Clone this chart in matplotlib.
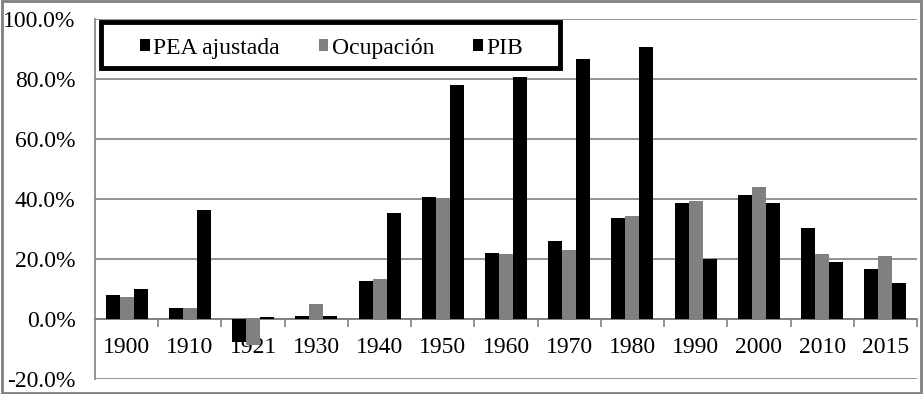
import numpy as np
import matplotlib
matplotlib.use("Agg")
import matplotlib.pyplot as plt
from matplotlib.patches import Rectangle, Patch
from matplotlib.ticker import FixedLocator, FuncFormatter

# data (percent)
years = ["1900", "1910", "1921", "1930", "1940", "1950", "1960",
         "1970", "1980", "1990", "2000", "2010", "2015"]
pea = [8.1, 3.8, -7.5, 1.1, 12.6, 40.8, 22.1, 26.1, 33.8, 38.8, 41.5, 30.5, 16.8]
ocupacion = [7.4, 3.8, -8.6, 5.1, 13.5, 40.5, 21.8, 23.1, 34.5, 39.2, 43.9, 21.8, 21.1]
pib = [10.1, 36.2, 0.8, 1.1, 35.5, 77.9, 80.6, 86.6, 90.6, 20.1, 38.8, 19.1, 12.1]
series_names = ["PEA ajustada", "Ocupación", "PIB"]
series_colors = ["#000000", "#808080", "#000000"]

plt.rcParams["font.family"] = ["Liberation Serif", "DejaVu Serif"]

fig = plt.figure(figsize=(9.23, 3.94), dpi=100)
ax = fig.add_axes([95 / 923, 15 / 394, 822 / 923, 360 / 394])

x = np.arange(len(years))
w = 0.2215
for i, (vals, c) in enumerate(zip([pea, ocupacion, pib], series_colors)):
    ax.bar(x + (i - 1) * w, vals, width=w, color=c, zorder=3)

ax.set_xlim(-0.5, len(years) - 0.5)
ax.set_ylim(-20, 100)
ax.set_yticks(np.arange(-20, 101, 20))
ax.yaxis.set_major_formatter(FuncFormatter(lambda v, p: "%.1f%%" % v))
ax.tick_params(axis="y", length=0, pad=14, labelsize=17)
ax.grid(axis="y", color="#808080", linewidth=1.2, zorder=0)

# category axis sits on the zero line
ax.spines["bottom"].set_position(("data", 0))
ax.spines["bottom"].set_color("#808080")
ax.spines["bottom"].set_linewidth(1.2)
ax.spines["left"].set_color("#808080")
ax.spines["left"].set_linewidth(1.2)
ax.spines["top"].set_visible(False)
ax.spines["right"].set_visible(False)
ax.xaxis.set_major_locator(FixedLocator(np.arange(0.5, len(years), 1)))
ax.xaxis.set_minor_locator(FixedLocator(x))
ax.set_xticklabels([], minor=False)
ax.set_xticklabels(years, minor=True)
ax.tick_params(axis="x", which="major", length=6, width=1.2, color="#808080", direction="out")
ax.tick_params(axis="x", which="minor", length=0, pad=13, labelsize=17)

# legend: frameless entries centred in a thick black box
box_x0, box_x1 = (101 - 95) / 822, (560 - 95) / 822
box_y0, box_y1 = (379 - 68) / 360, (379 - 22) / 360
ax.add_patch(Rectangle((box_x0, box_y0), box_x1 - box_x0, box_y1 - box_y0,
                       transform=ax.transAxes, facecolor="white", edgecolor="black",
                       linewidth=3.5, zorder=5))
handles = [Patch(facecolor=c, edgecolor="none") for c in series_colors]
leg = ax.legend(handles, series_names, ncol=3, loc="center",
                bbox_to_anchor=((box_x0 + box_x1) / 2 + 1 / 822,
                                (box_y0 + box_y1) / 2 - 3 / 360),
                borderaxespad=0, fontsize=17, handlelength=0.4, handleheight=0.4,
                handletextpad=0.15, columnspacing=1.65, borderpad=0, frameon=False)
leg.set_zorder(6)

# outer chart border
fig.patches.append(Rectangle((0.002, 0.003), 0.996, 0.994, transform=fig.transFigure,
                             fill=False, edgecolor="#808080", linewidth=2))

fig.savefig("out.png", dpi=100)
